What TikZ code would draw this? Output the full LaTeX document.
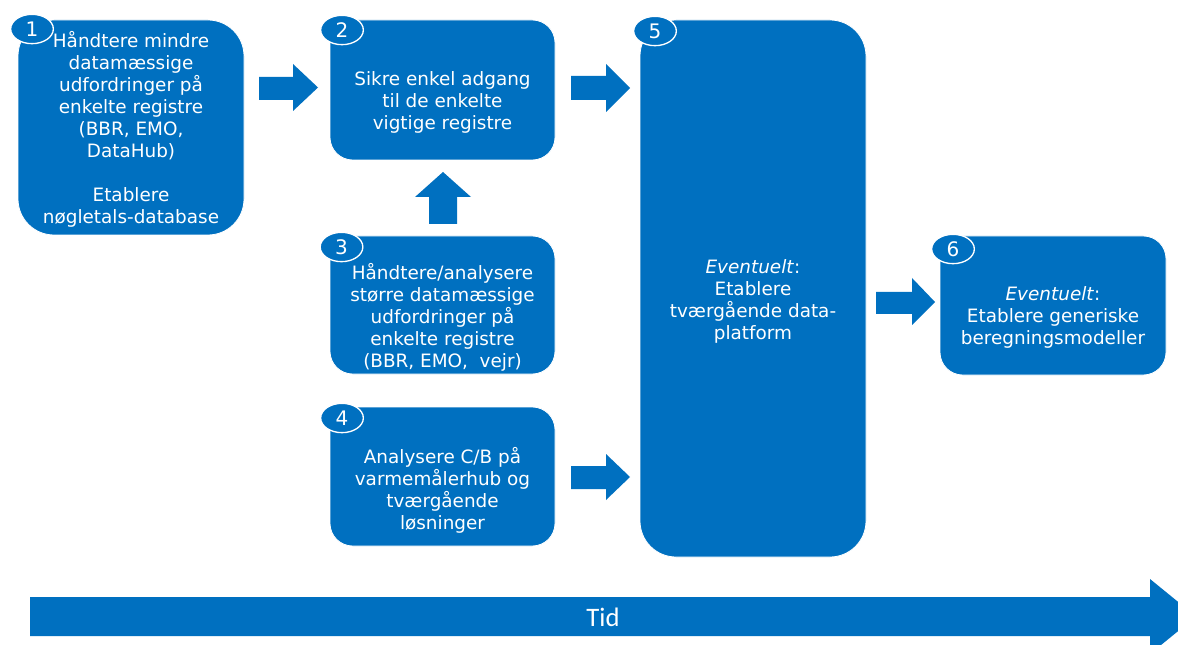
\documentclass[tikz,border=0pt]{standalone}
\usepackage{fontspec}
\setmainfont{DejaVu Sans}
\newfontfamily\tidfont{Carlito}
\definecolor{stepblue}{HTML}{0070C0}
\tikzset{
  box/.style={fill=stepblue, draw=white, line width=0.6pt, rounded corners=17pt, inner sep=0pt},
  tallbox/.style={box, rounded corners=27pt},
  boxtext/.style={text=white, align=center, inner sep=0pt, font=\fontsize{13.8}{16.5}\selectfont},
  badge/.style={ellipse, fill=stepblue, draw=white, line width=1pt, minimum width=32pt, minimum height=22pt, inner sep=0pt, text=white, font=\fontsize{15}{17}\selectfont},
  blockarrow/.style={fill=stepblue}
}
\usetikzlibrary{shapes.geometric}
\begin{document}
\begin{tikzpicture}[x=0.75pt, y=-0.75pt]
  \useasboundingbox (0,0) rectangle (1178,645);
  \clip (0,0) rectangle (1178,645);
  \fill[white] (0,0) rectangle (1178,645);

  % the six steps
  \node[tallbox, minimum width=169.5pt, minimum height=161.25pt] (b1) at (131,127.5) {};
  \node[box, minimum width=168.75pt, minimum height=105pt] (b2) at (442.5,90) {};
  \node[box, minimum width=168.75pt, minimum height=103.5pt] (b3) at (442.5,305) {};
  \node[box, minimum width=168.75pt, minimum height=104.25pt] (b4) at (442.5,476.5) {};
  \node[tallbox, minimum width=169.5pt, minimum height=402.75pt] (b5) at (753,288.5) {};
  \node[box, minimum width=169.5pt, minimum height=104.25pt] (b6) at (1053,305.5) {};

  % texts
  \node[boxtext] (t1) at (131,129.5) {Håndtere mindre\\datamæssige\\udfordringer på\\enkelte registre\\(BBR, EMO,\\DataHub)\\[16.5pt]Etablere\\nøgletals-database};
  \node[boxtext] (t2) at (442.5,102) {Sikre enkel adgang\\til de enkelte\\vigtige registre};
  \node[boxtext] (t3) at (442.5,317.5) {Håndtere/analysere\\større datamæssige\\udfordringer på\\enkelte registre\\(BBR, EMO,~~vejr)};
  \node[boxtext] (t4) at (442.5,490) {Analysere C/B på\\varmemålerhub og\\tværgående\\løsninger};
  \node[boxtext] (t5) at (753,301) {\textit{Eventuelt}:\\Etablere\\tværgående data-\\platform};
  \node[boxtext] (t6) at (1053,317) {\textit{Eventuelt}:\\Etablere generiske\\beregningsmodeller};

  % step numbers
  \node[badge] (n1) at (32,29) {1};
  \node[badge] (n2) at (342,30) {2};
  \node[badge] (n3) at (341.5,247) {3};
  \node[badge] (n4) at (342,418) {4};
  \node[badge] (n5) at (655,31) {5};
  \node[badge] (n6) at (953,249) {6};

  % block arrows between the steps
  \fill[blockarrow] (259,77) -- (293,77) -- (293,64) -- (318,87.5) -- (293,111) -- (293,100) -- (259,100) -- cycle;
  \fill[blockarrow] (571,76) -- (606,76) -- (606,64) -- (630,88) -- (606,112) -- (606,100) -- (571,100) -- cycle;
  \fill[blockarrow] (429,224) -- (429,197) -- (415,197) -- (443,172) -- (471,197) -- (457,197) -- (457,224) -- cycle;
  \fill[blockarrow] (571,466) -- (606,466) -- (606,454) -- (630,477) -- (606,500) -- (606,489) -- (571,489) -- cycle;
  \fill[blockarrow] (876,292) -- (912,292) -- (912,278) -- (935,302) -- (912,325) -- (912,314) -- (876,314) -- cycle;

  % time axis
  \fill[blockarrow] (30,597) -- (1150,597) -- (1150,579) -- (1196,616.5) -- (1150,654) -- (1150,636) -- (30,636) -- cycle;
  \node[text=white, font=\tidfont\fontsize{20}{24}\selectfont] (tid) at (603,617) {Tid};
\end{tikzpicture}
\end{document}
